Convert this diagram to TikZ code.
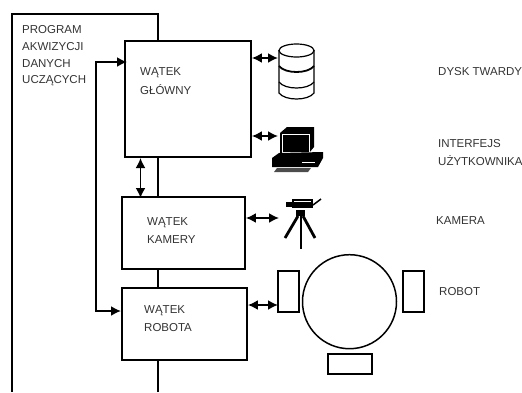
\documentclass[tikz,border=0pt]{standalone}
\usepackage{fontspec}
\setmainfont{Liberation Sans}
\usetikzlibrary{arrows.meta}
\definecolor{labelgray}{HTML}{333333}
\tikzset{
    blockbox/.style={draw, fill=white, line width=1.8pt, inner sep=0pt},
    wheelbox/.style={draw, line width=1.5pt, fill=white, inner sep=0pt},
    tag/.style={anchor=west, inner sep=0pt, text=labelgray, font=\fontsize{11.5}{13}\selectfont},
    link/.style={line width=1.8pt, {Latex[length=10pt,width=10pt]}-{Latex[length=10pt,width=10pt]}}
}
\begin{document}
\begin{tikzpicture}[x=1pt, y=-1pt]
    \useasboundingbox (0,0) rectangle (522,392);

    % outer frame, runs off the bottom
    \draw[line width=2pt] (158,392) -- (158,14) -- (12,14) -- (12,392);

    \node[blockbox, minimum width=126pt, minimum height=116pt] (main) at (188,99) {};
    \node[blockbox, minimum width=123pt, minimum height=72pt] (cam) at (183.5,233) {};
    \node[blockbox, minimum width=125pt, minimum height=72pt] (rob) at (184.5,324) {};

    \node[tag] (t1) at (22,29.5) {PROGRAM};
    \node[tag] (t2) at (22,46.5) {AKWIZYCJI};
    \node[tag] (t3) at (22,63.5) {DANYCH};
    \node[tag] (t4) at (22,80.5) {UCZĄCYCH};
    \node[tag] (m1) at (140,72.5) {WĄTEK};
    \node[tag] (m2) at (140,89.5) {GŁÓWNY};
    \node[tag] (c1) at (147,222.5) {WĄTEK};
    \node[tag] (c2) at (147,239.5) {KAMERY};
    \node[tag] (r1) at (144,310.5) {WĄTEK};
    \node[tag] (r2) at (144,327.5) {ROBOTA};
    \node[tag] (l1) at (438,71.5) {DYSK TWARDY};
    \node[tag] (l2) at (438,143.5) {INTERFEJS};
    \node[tag] (l3) at (438,160.5) {UŻYTKOWNIKA};
    \node[tag] (l4) at (436,220.5) {KAMERA};
    \node[tag] (l5) at (439,291.5) {ROBOT};

    % disk
    \draw[line width=1.2pt] (279,50) -- (279,93) .. controls (285,101) and (308,101) .. (314,93) -- (314,50);
    \draw[line width=1.2pt] (296.5,50.5) ellipse (17.5pt and 6.5pt);
    \draw[line width=1.8pt] (279,66) .. controls (285,74) and (308,74) .. (314,66);
    \draw[line width=1.2pt] (279,82) .. controls (285,90) and (308,90) .. (314,82);

    % computer
    \fill (280,133) -- (287,127) -- (314,127) -- (314,147) -- (309,153) -- (280,153) -- cycle;
    \draw[white, line width=0.8pt] (282,134) rectangle (309,152);
    \fill (279,153) -- (272,158) -- (272,167) -- (318,167) -- (323,158) -- (323,152) -- cycle;
    \draw[white, line width=0.8pt] (302,162) -- (315,162);
    \fill[black!70] (277,168) -- (311,168) -- (308,172) -- (274,172) -- cycle;

    % camera on tripod
    \fill (292,199) rectangle (313,208);
    \fill (286,202) rectangle (292,207);
    \draw[white, line width=0.6pt] (294,201) -- (311,201);
    \draw[line width=1.5pt] (313,205) -- (321,199);
    \fill (296,210) rectangle (305,216);
    \draw[line width=2.8pt] (298,216) -- (285,238);
    \draw[line width=2.8pt] (301,216) -- (301,249);
    \draw[line width=2.8pt] (303,216) -- (315,238);

    % robot
    \node[circle, draw, line width=1.5pt, minimum size=94pt, inner sep=0pt] (body) at (349.5,301.7) {};
    \node[wheelbox, minimum width=21pt, minimum height=41pt] (wl) at (288.5,291.5) {};
    \node[wheelbox, minimum width=21pt, minimum height=41pt] (wr) at (413.5,291.5) {};
    \node[wheelbox, minimum width=44pt, minimum height=20pt] (wb) at (350,364) {};

    \coordinate (diskin) at (278,58);
    \coordinate (compin) at (278,136);
    \coordinate (camin) at (279,218);
    \coordinate (robin) at (278,305);
    \coordinate (mainl) at (127,62);
    \coordinate (robl) at (121,311);
    \coordinate (benda) at (96,62);
    \coordinate (bendb) at (96,311);
    \coordinate (mainb) at (140.5,158);
    \coordinate (camt) at (140.5,198);

    % links between the threads and the devices
    \draw[link] (main.east |- diskin) -- (diskin);
    \draw[link] (main.east |- compin) -- (compin);
    \draw[link] (cam.east |- camin) -- (camin);
    \draw[link] (rob.east |- robin) -- (robin);
    \draw[link] (mainb) -- (camt);
    \draw[link] (mainl) -- (benda) -- (bendb) -- (robl);
\end{tikzpicture}
\end{document}
